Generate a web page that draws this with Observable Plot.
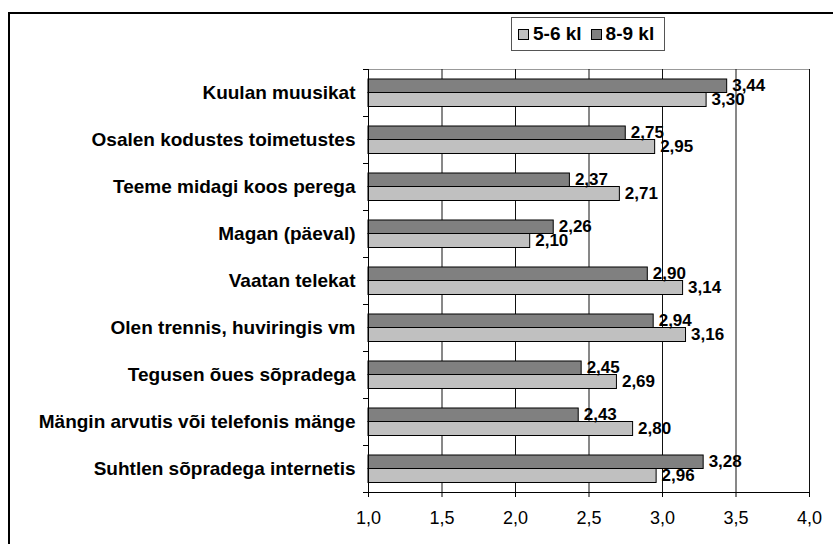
<!DOCTYPE html>
<html>
<head>
<meta charset="utf-8">
<script src="https://cdn.jsdelivr.net/npm/d3@7"></script>
<script src="https://cdn.jsdelivr.net/npm/@observablehq/plot@0.6"></script>
<style>
  html, body { margin: 0; padding: 0; background: #fff; overflow: hidden; }
  body { width: 833px; height: 544px; position: relative; font-family: "Liberation Sans", Arial, sans-serif; }
  #frame { position: absolute; left: 8px; top: 12px; width: 900px; height: 600px; border-left: 2px solid #000; border-top: 2px solid #000; box-sizing: border-box; }
  #chart { position: absolute; left: 0; top: 0; }
  #legend { position: absolute; left: 511px; top: 17px; width: 154px; height: 34px; box-sizing: border-box; border: 1px solid #555; background: #fff; display: flex; align-items: center; font-weight: bold; font-size: 19px; color: #000; }
  #legend .sw { display: inline-block; width: 11px; height: 11px; box-sizing: border-box; border: 1px solid #000; margin-right: 4px; }
  #legend .item { display: flex; align-items: center; }
</style>
</head>
<body>
<div id="frame"></div>
<div id="chart"></div>
<div id="legend"></div>
<script>
const categories = [
  "Kuulan muusikat",
  "Osalen kodustes toimetustes",
  "Teeme midagi koos perega",
  "Magan (päeval)",
  "Vaatan telekat",
  "Olen trennis, huviringis vm",
  "Tegusen õues sõpradega",
  "Mängin arvutis või telefonis mänge",
  "Suhtlen sõpradega internetis"
];
const series = ["5-6 kl", "8-9 kl"];
const values56 = [3.30, 2.95, 2.71, 2.10, 3.14, 3.16, 2.69, 2.80, 2.96];
const values89 = [3.44, 2.75, 2.37, 2.26, 2.90, 2.94, 2.45, 2.43, 3.28];
const xTicks = [1.0, 1.5, 2.0, 2.5, 3.0, 3.5, 4.0];
const colors = {"5-6 kl": "#c0c0c0", "8-9 kl": "#808080"};

const fmt = d => d.toFixed(2).replace(".", ",");
const fmtTick = d => d.toFixed(1).replace(".", ",");

const rows56 = categories.map((c, i) => ({cat: c, value: values56[i], series: series[0]}));
const rows89 = categories.map((c, i) => ({cat: c, value: values89[i], series: series[1]}));

const fontFamily = "'Liberation Sans', Arial, sans-serif";

const chart = Plot.plot({
  width: 833,
  height: 544,
  marginLeft: 368,
  marginRight: 24,
  marginTop: 69,
  marginBottom: 52,
  style: {fontFamily, background: "transparent", color: "#000"},
  x: {domain: [1, 4], ticks: xTicks, tickFormat: fmtTick, label: null},
  y: {domain: categories, type: "band", padding: 0, label: null},
  marks: [
    // top border of plot area
    Plot.ruleY([categories[0]], {y: d => d, dy: -23.5, stroke: "#999", strokeWidth: 1}),
    // vertical gridlines
    Plot.ruleX(xTicks.slice(1), {stroke: "#111", strokeWidth: 1}),
    // bars
    Plot.barX(rows89, {y: "cat", x1: 1, x2: "value", fill: colors["8-9 kl"], stroke: "#000", strokeWidth: 1, insetTop: 10, insetBottom: 23.5}),
    Plot.barX(rows56, {y: "cat", x1: 1, x2: "value", fill: colors["5-6 kl"], stroke: "#000", strokeWidth: 1, insetTop: 23.5, insetBottom: 9.5}),
    // left axis line
    Plot.ruleX([1], {stroke: "#000", strokeWidth: 1}),
    // left category boundary ticks
    Plot.ruleY(categories, {y: d => d, dy: -23.5, x1: 1, x2: 1, insetLeft: -5, stroke: "#000"}),
    Plot.ruleY([categories[categories.length - 1]], {y: d => d, dy: 23.5, x1: 1, x2: 1, insetLeft: -5, stroke: "#000"}),
    // bottom axis line
    Plot.ruleY([categories[categories.length - 1]], {y: d => d, dy: 23.5, stroke: "#000"}),
    Plot.axisX({ticks: xTicks, tickFormat: fmtTick, tickSize: 5, tickPadding: 14, fontSize: 18, stroke: "#000", fill: "#000", label: null}),
    Plot.axisY({tickSize: 0, tickPadding: 13, fontSize: 19, fontWeight: "bold", fill: "#000", label: null, style: "letter-spacing:0.25px"}),
    // value labels
    Plot.text(rows89, {y: "cat", x: "value", text: d => fmt(d.value), textAnchor: "start", dx: 5, dy: -7.5, fontSize: 17, fontWeight: "bold", fill: "#000"}),
    Plot.text(rows56, {y: "cat", x: "value", text: d => fmt(d.value), textAnchor: "start", dx: 5, dy: 7, fontSize: 17, fontWeight: "bold", fill: "#000"})
  ]
});
document.getElementById("chart").appendChild(chart);

const legend = document.getElementById("legend");
series.forEach((s, i) => {
  const item = document.createElement("span");
  item.className = "item";
  item.style.marginLeft = i === 0 ? "6px" : "9px";
  const sw = document.createElement("span");
  sw.className = "sw";
  sw.style.background = colors[s];
  item.appendChild(sw);
  item.appendChild(document.createTextNode(s));
  legend.appendChild(item);
});
</script>
</body>
</html>
